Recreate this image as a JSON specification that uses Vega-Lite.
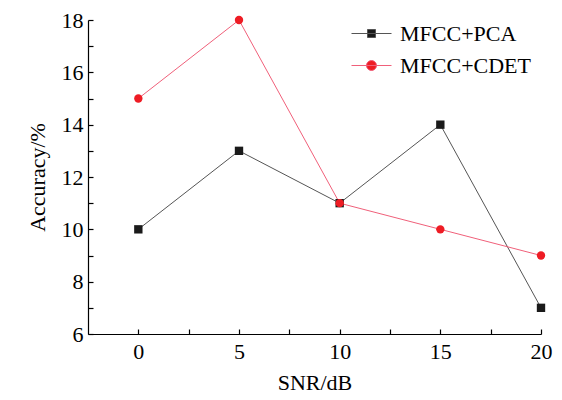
{
  "$schema": "https://vega.github.io/schema/vega-lite/v6.json",
  "width": 453,
  "height": 314,
  "autosize": {"type": "none"},
  "padding": {"left": 88, "top": 20, "right": 21, "bottom": 66},
  "background": "white",
  "config": {
    "view": {"stroke": null},
    "font": "Liberation Serif",
    "axis": {"labelFont": "Liberation Serif", "titleFont": "Liberation Serif", "labelFontSize": 22, "titleFontSize": 22, "titleFontWeight": "normal", "labelColor": "#000", "titleColor": "#000", "domainColor": "#000", "tickColor": "#000", "grid": false, "domainWidth": 1.2, "tickWidth": 1.2},
    "legend": {"labelFont": "Liberation Serif", "labelFontSize": 22, "labelColor": "#000"}
  },
  "data": {"values": [
    {"snr": 0, "acc": 10, "series": "MFCC+PCA"},
    {"snr": 5, "acc": 13, "series": "MFCC+PCA"},
    {"snr": 10, "acc": 11, "series": "MFCC+PCA"},
    {"snr": 15, "acc": 14, "series": "MFCC+PCA"},
    {"snr": 20, "acc": 7, "series": "MFCC+PCA"},
    {"snr": 0, "acc": 15, "series": "MFCC+CDET"},
    {"snr": 5, "acc": 18, "series": "MFCC+CDET"},
    {"snr": 10, "acc": 11, "series": "MFCC+CDET"},
    {"snr": 15, "acc": 10, "series": "MFCC+CDET"},
    {"snr": 20, "acc": 9, "series": "MFCC+CDET"}
  ]},
  "encoding": {
    "x": {"field": "snr", "type": "quantitative", "title": "SNR/dB",
      "scale": {"domain": [-2.5, 20], "nice": false, "zero": false},
      "axis": {"values": [0, 2.5, 5, 7.5, 10, 12.5, 15, 17.5, 20],
        "labelExpr": "datum.value % 5 === 0 ? datum.label : ''",
        "tickSize": -5,
        "labelPadding": 12, "titlePadding": 10, "labelFlush": false}},
    "y": {"field": "acc", "type": "quantitative", "title": "Accuracy/%",
      "scale": {"domain": [6, 18], "nice": false, "zero": false},
      "axis": {"values": [6, 7, 8, 9, 10, 11, 12, 13, 14, 15, 16, 17, 18],
        "labelExpr": "datum.value % 2 === 0 ? datum.label : ''",
        "tickSize": -5,
        "labelPadding": 10, "titlePadding": 12, "labelFlush": false}}
  },
  "layer": [
    {
      "mark": {"type": "line", "strokeWidth": 1},
      "encoding": {
        "stroke": {"field": "series", "type": "nominal",
          "scale": {"domain": ["MFCC+PCA", "MFCC+CDET"], "range": ["#555555", "#f0607a"]}}
      }
    },
    {
      "mark": {"type": "point", "filled": true, "opacity": 1},
      "encoding": {
        "color": {"field": "series", "type": "nominal",
          "scale": {"domain": ["MFCC+PCA", "MFCC+CDET"], "range": ["#1a1a1a", "#ee1c24"]},
          "legend": {"title": null, "orient": "none", "legendX": 263, "legendY": -7,
            "symbolSize": 1600, "symbolStrokeWidth": 1, "rowPadding": -5, "labelOffset": 8}},
        "shape": {"condition": {"test": "datum.series === 'MFCC+PCA'", "value": "square"}, "value": "circle"},
        "size": {"value": 70}
      }
    },
    {
      "transform": [{"filter": "datum.acc < 0"}],
      "mark": {"type": "point", "filled": true, "opacity": 1},
      "encoding": {
        "color": {"field": "series", "type": "nominal"},
        "shape": {"field": "series", "type": "nominal",
          "scale": {"domain": ["MFCC+PCA", "MFCC+CDET"],
            "range": ["M-1,0H1M-0.2,-0.2H0.2V0.2H-0.2Z", "M-1,0H1M0.25,0A0.25,0.25 0 1,1 -0.25,0A0.25,0.25 0 1,1 0.25,0Z"]}}
      }
    }
  ]
}
